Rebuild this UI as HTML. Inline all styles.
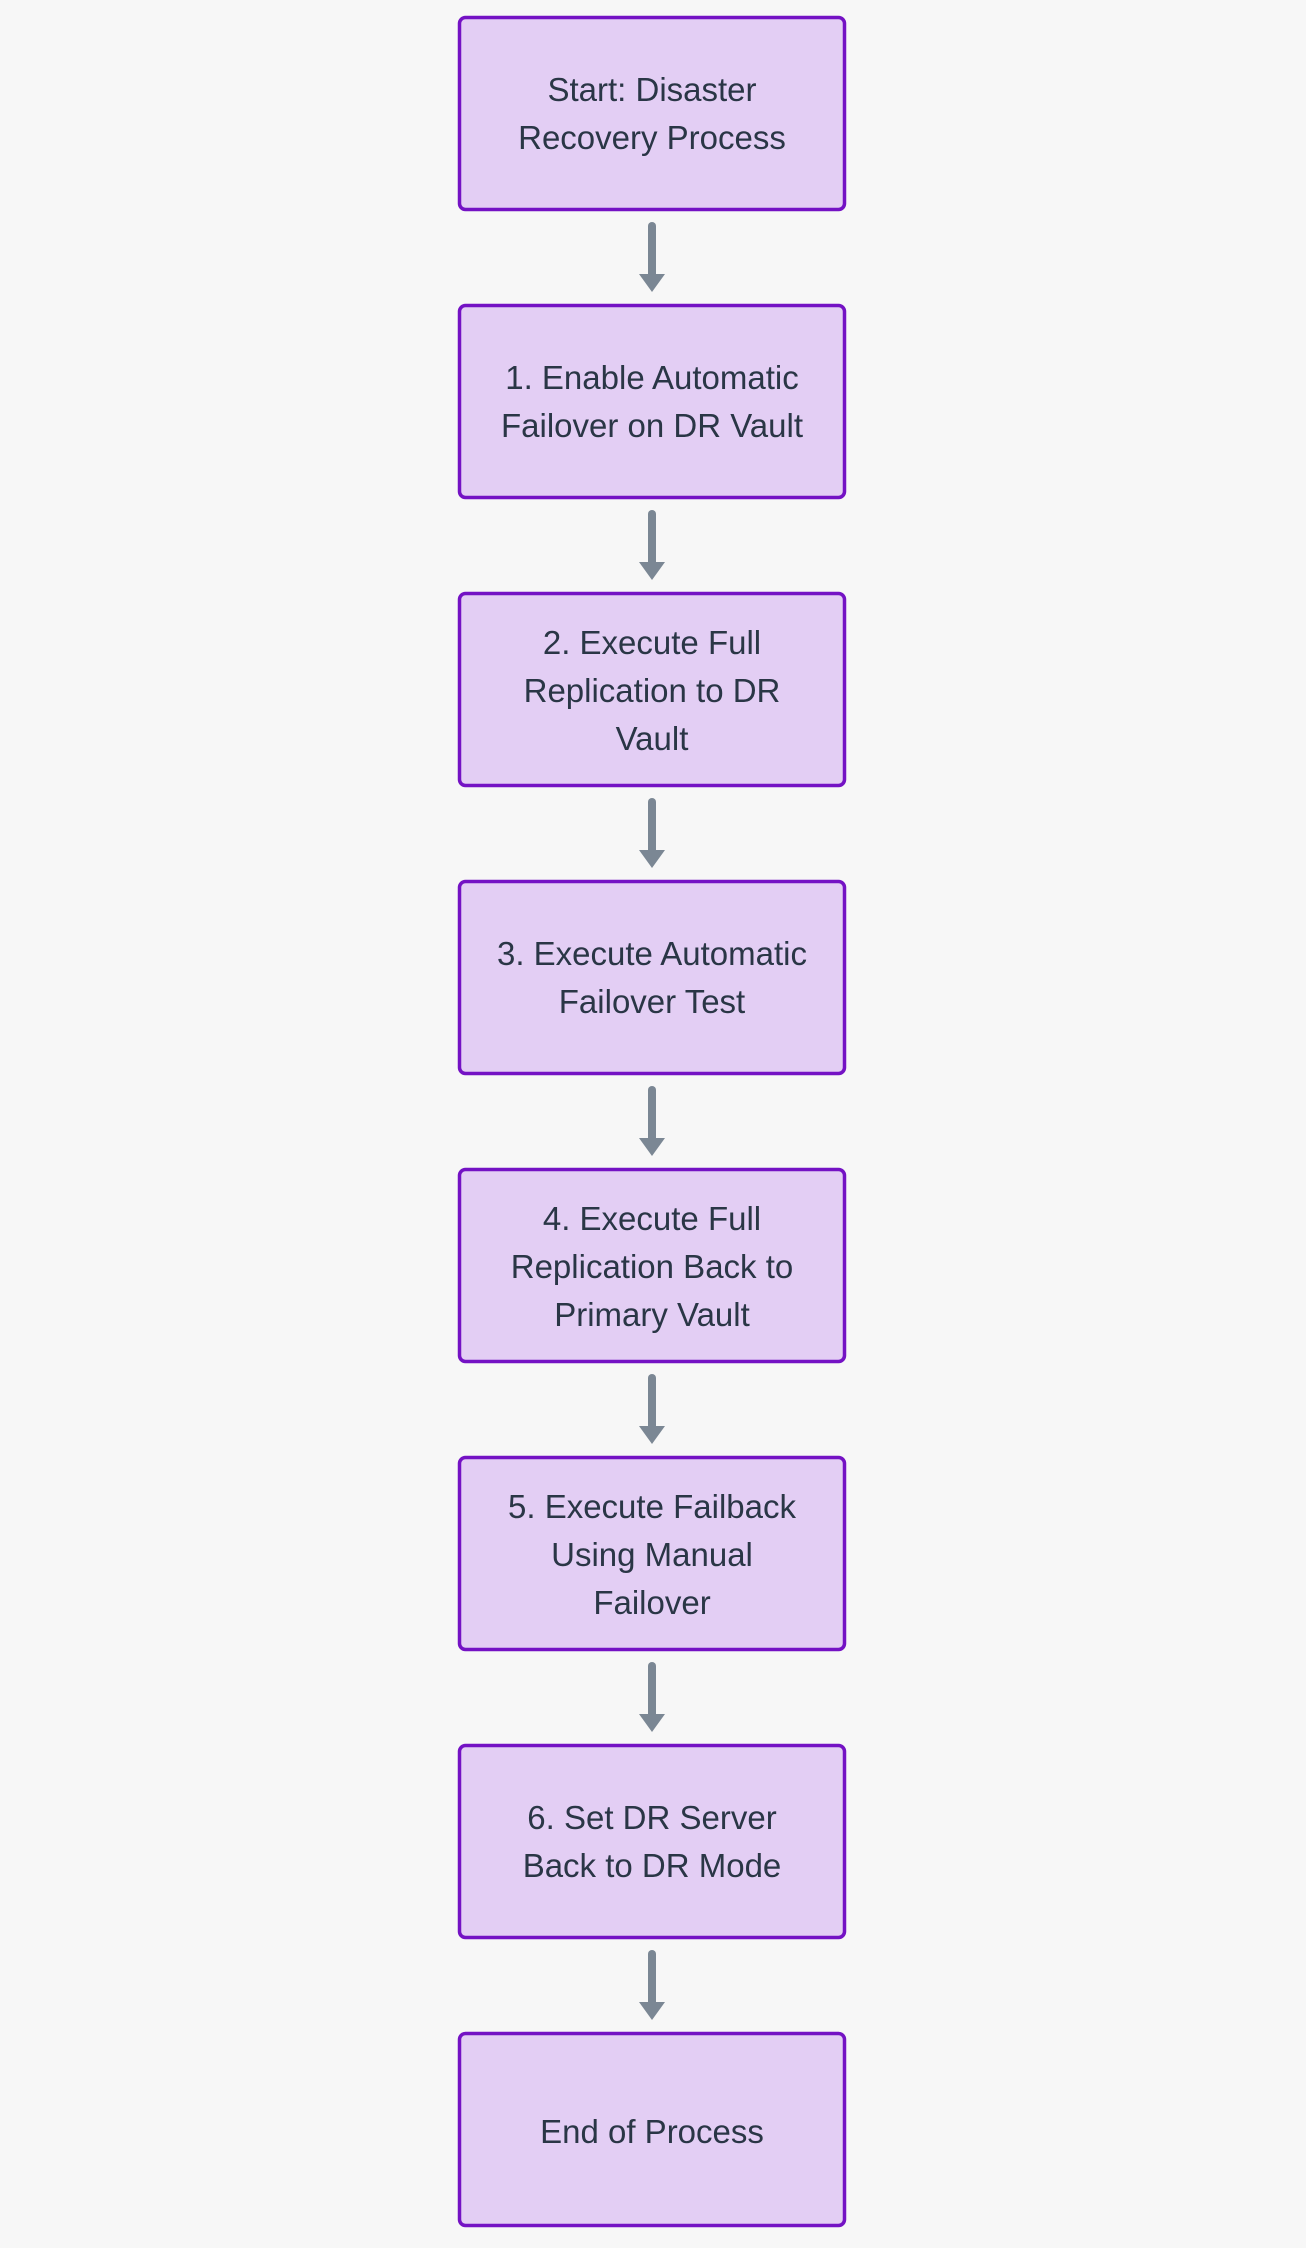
<!DOCTYPE html>
<html><head><meta charset="utf-8"><style>
html,body{margin:0;padding:0;background:#f7f7f7;}
svg{display:block;}
text{font-family:"Liberation Sans","DejaVu Sans",sans-serif;font-size:33px;fill:#2a3646;text-anchor:middle;}
</style></head><body>
<svg width="1306" height="2248" viewBox="0 0 1306 2248" xmlns="http://www.w3.org/2000/svg">
<rect width="1306" height="2248" fill="#f7f7f7"/>
<g fill="#e3cef4" stroke="#7412c4" stroke-width="3.5">
<rect x="459.5" y="17.5" width="385" height="192" rx="6"/>
<rect x="459.5" y="305.5" width="385" height="192" rx="6"/>
<rect x="459.5" y="593.5" width="385" height="192" rx="6"/>
<rect x="459.5" y="881.5" width="385" height="192" rx="6"/>
<rect x="459.5" y="1169.5" width="385" height="192" rx="6"/>
<rect x="459.5" y="1457.5" width="385" height="192" rx="6"/>
<rect x="459.5" y="1745.5" width="385" height="192" rx="6"/>
<rect x="459.5" y="2033.5" width="385" height="192" rx="6"/>
</g>
<g stroke="#7b8794" stroke-width="8" stroke-linecap="round">
<line x1="652" y1="226" x2="652" y2="280"/>
<line x1="652" y1="514" x2="652" y2="568"/>
<line x1="652" y1="802" x2="652" y2="856"/>
<line x1="652" y1="1090" x2="652" y2="1144"/>
<line x1="652" y1="1378" x2="652" y2="1432"/>
<line x1="652" y1="1666" x2="652" y2="1720"/>
<line x1="652" y1="1954" x2="652" y2="2008"/>
</g>
<g fill="#7b8794">
<polygon points="639,274 665,274 652,292"/>
<polygon points="639,562 665,562 652,580"/>
<polygon points="639,850 665,850 652,868"/>
<polygon points="639,1138 665,1138 652,1156"/>
<polygon points="639,1426 665,1426 652,1444"/>
<polygon points="639,1714 665,1714 652,1732"/>
<polygon points="639,2002 665,2002 652,2020"/>
</g>
<text x="652" y="101">Start: Disaster</text>
<text x="652" y="149">Recovery Process</text>
<text x="652" y="389">1. Enable Automatic</text>
<text x="652" y="437">Failover on DR Vault</text>
<text x="652" y="654">2. Execute Full</text>
<text x="652" y="702">Replication to DR</text>
<text x="652" y="750">Vault</text>
<text x="652" y="965">3. Execute Automatic</text>
<text x="652" y="1013">Failover Test</text>
<text x="652" y="1230">4. Execute Full</text>
<text x="652" y="1278">Replication Back to</text>
<text x="652" y="1326">Primary Vault</text>
<text x="652" y="1518">5. Execute Failback</text>
<text x="652" y="1566">Using Manual</text>
<text x="652" y="1614">Failover</text>
<text x="652" y="1829">6. Set DR Server</text>
<text x="652" y="1877">Back to DR Mode</text>
<text x="652" y="2143">End of Process</text>
</svg>
</body></html>
